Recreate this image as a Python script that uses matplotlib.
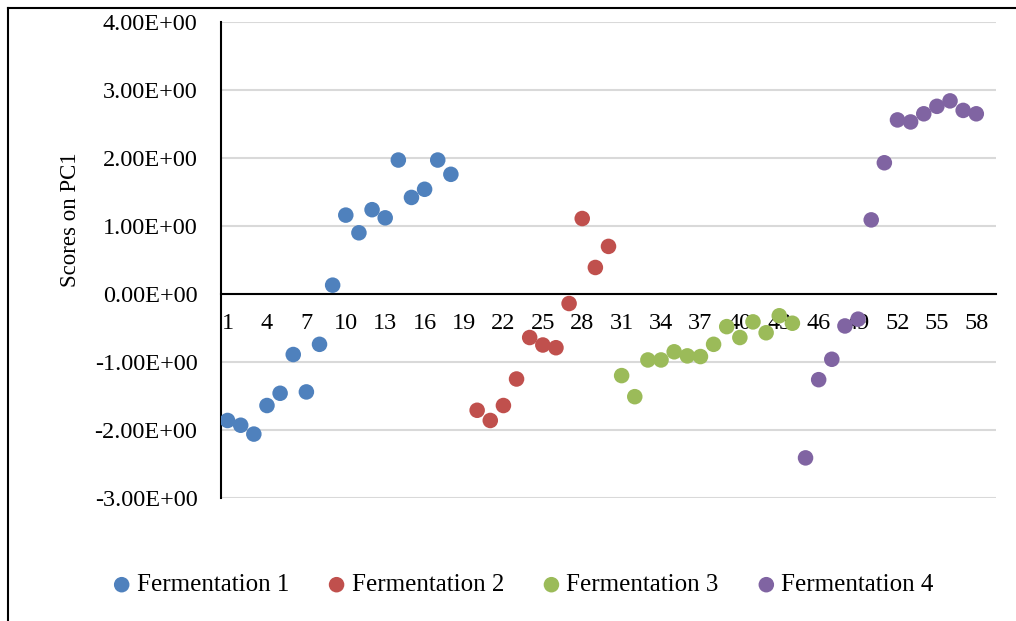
import matplotlib.pyplot as plt
from matplotlib.lines import Line2D

# sample index (category position) and PC1 scores per fermentation
f1_x = list(range(1, 19))
f1_y = [-1.86, -1.93, -2.06, -1.64, -1.46, -0.89, -1.44, -0.74, 0.13,
        1.16, 0.90, 1.24, 1.12, 1.97, 1.42, 1.54, 1.97, 1.76]

f2_x = list(range(20, 31))
f2_y = [-1.71, -1.86, -1.64, -1.25, -0.64, -0.75, -0.79, -0.14, 1.11, 0.39, 0.70]

f3_x = list(range(31, 45))
f3_y = [-1.20, -1.51, -0.97, -0.97, -0.85, -0.91, -0.92, -0.74, -0.48,
        -0.64, -0.41, -0.57, -0.32, -0.43]

f4_x = list(range(45, 59))
f4_y = [-2.41, -1.26, -0.96, -0.47, -0.37, 1.09, 1.93, 2.56, 2.53, 2.65,
        2.76, 2.84, 2.70, 2.65]

series = [
    ("Fermentation 1", f1_x, f1_y, "#4F81BD"),
    ("Fermentation 2", f2_x, f2_y, "#C0504D"),
    ("Fermentation 3", f3_x, f3_y, "#9BBB59"),
    ("Fermentation 4", f4_x, f4_y, "#8064A2"),
]

x_ticks = list(range(1, 59, 3))
y_ticks = [-3, -2, -1, 0, 1, 2, 3, 4]

plt.rcParams['font.family'] = ['Liberation Serif', 'DejaVu Serif']

fig = plt.figure(figsize=(10.16, 6.21), dpi=100)
ax = fig.add_axes([221 / 1016, 1 - 498 / 621, (996 - 221) / 1016, (498 - 22) / 621])

for name, xs, ys, col in series:
    ax.scatter(xs, ys, s=125, color=col, edgecolors='none', label=name, zorder=3)

ax.set_xlim(0.5, 59.5)
ax.set_ylim(-3, 4)
ax.set_yticks(y_ticks)
ax.set_yticklabels(["%.2fE+00" % v for v in y_ticks])
ax.set_xticks(x_ticks)
ax.set_xticklabels([str(v) for v in x_ticks])
ax.tick_params(axis='y', length=0, pad=17, labelsize=17.5)
ax.tick_params(axis='x', length=0, pad=14, labelsize=17.5)

ax.grid(axis='y', color='#D9D9D9', linewidth=1.5, zorder=0)
ax.set_axisbelow(True)
for s in ['top', 'right']:
    ax.spines[s].set_visible(False)
ax.spines['left'].set_linewidth(1.5)
ax.spines['bottom'].set_position(('data', 0))
ax.spines['bottom'].set_linewidth(1.5)
ax.spines['bottom'].set_zorder(2)

fig.text(70 / 1016, 1 - 220 / 621, "Scores on PC1", rotation=90,
         ha='center', va='center', fontsize=16.5)

fig.legend(loc='center', bbox_to_anchor=(0.512, 1 - 585 / 621), ncol=4,
           frameon=False, fontsize=18, handletextpad=0.0, handlelength=1.2,
           columnspacing=1.3, scatterpoints=1)

# outer chart border (only top and left visible in the crop)
fig.add_artist(Line2D([8 / 1016, 1], [1 - 8 / 621, 1 - 8 / 621], color='black', linewidth=1.5))
fig.add_artist(Line2D([8 / 1016, 8 / 1016], [0, 1 - 8 / 621], color='black', linewidth=1.5))

fig.savefig("out.png", dpi=100)
